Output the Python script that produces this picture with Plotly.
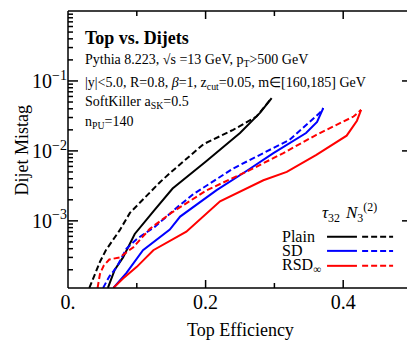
import math
import plotly.graph_objects as go

# ---- data (top efficiency, dijet mistag) ----
plain_tau_x = [0.058, 0.068, 0.080, 0.097, 0.125, 0.152, 0.200, 0.250, 0.279, 0.296]
plain_tau_y = [1.1e-4, 2.0e-4, 3.0e-4, 6.5e-4, 1.4e-3, 2.9e-3, 7.0e-3, 1.8e-2, 3.5e-2, 5.7e-2]

plain_n3_x = [0.031, 0.040, 0.0465, 0.055, 0.075, 0.090, 0.115, 0.134, 0.153, 0.197, 0.240, 0.274, 0.296]
plain_n3_y = [1.1e-4, 1.8e-4, 2.6e-4, 3.8e-4, 7.3e-4, 1.3e-3, 2.3e-3, 3.6e-3, 5.3e-3, 1.25e-2, 2.0e-2, 3.1e-2, 5.7e-2]

sd_tau_x = [0.066, 0.075, 0.085, 0.109, 0.148, 0.163, 0.216, 0.260, 0.298, 0.346, 0.362, 0.371]
sd_tau_y = [1.1e-4, 1.4e-4, 1.8e-4, 3.8e-4, 7.5e-4, 1.15e-3, 2.75e-3, 5.2e-3, 9.2e-3, 1.8e-2, 2.6e-2, 4.1e-2]

sd_n3_x = [0.051, 0.060, 0.071, 0.085, 0.100, 0.126, 0.160, 0.182, 0.240, 0.322, 0.366, 0.371]
sd_n3_y = [1.1e-4, 1.6e-4, 2.2e-4, 4.0e-4, 5.5e-4, 8.2e-4, 1.6e-3, 2.4e-3, 5.6e-3, 1.44e-2, 3.5e-2, 4.1e-2]

rsd_tau_x = [0.066, 0.080, 0.100, 0.124, 0.172, 0.221, 0.284, 0.318, 0.361, 0.405, 0.420, 0.426]
rsd_tau_y = [1.1e-4, 1.5e-4, 2.2e-4, 3.8e-4, 7.0e-4, 1.9e-3, 3.8e-3, 5.0e-3, 8.8e-3, 1.65e-2, 2.7e-2, 3.86e-2]

rsd_n3_x = [0.043, 0.0465, 0.052, 0.060, 0.075, 0.095, 0.119, 0.150, 0.202, 0.264, 0.313, 0.361, 0.415, 0.426]
rsd_n3_y = [1.1e-4, 1.75e-4, 2.3e-4, 2.8e-4, 3.0e-4, 4.2e-4, 7.7e-4, 1.3e-3, 2.75e-3, 5.3e-3, 9.3e-3, 1.7e-2, 3.1e-2, 3.86e-2]

legend_rows = ["Plain", "SD", "RSD<sub>∞</sub>"]
row_colors = ["black", "#0000ff", "#ff0000"]

x_tickvals = [0, 0.2, 0.4]
x_ticktext = ["0.", "0.2", "0.4"]
x_minor = [0.1, 0.3]
y_tickvals = [1e-3, 1e-2, 1e-1, 1]
y_ticktext = ["10<sup>−3</sup>", "10<sup>−2</sup>", "10<sup>−1</sup>", "10<sup>0</sup>"]
y_minor = [k * 10 ** e for e in range(-4, 0) for k in range(2, 10)]

FONT = "Liberation Serif"
X_RANGE = [0, 0.5]
Y_RANGE = [-3.96, 0]
PLOT_W, PLOT_H = 344, 277   # plot area in px

fig = go.Figure()

curves = [
    (plain_tau_x, plain_tau_y, "black", "solid"),
    (plain_n3_x, plain_n3_y, "black", "6px,3px"),
    (sd_tau_x, sd_tau_y, "#0000ff", "solid"),
    (sd_n3_x, sd_n3_y, "#0000ff", "6px,3px"),
    (rsd_tau_x, rsd_tau_y, "#ff0000", "solid"),
    (rsd_n3_x, rsd_n3_y, "#ff0000", "6px,3px"),
]
for xs, ys, col, dash in curves:
    fig.add_trace(go.Scatter(x=xs, y=ys, mode="lines",
                             line=dict(color=col, width=2, dash=dash),
                             showlegend=False, hoverinfo="skip"))

fig.update_xaxes(range=X_RANGE, tickvals=x_tickvals, ticktext=x_ticktext,
                 showline=False, ticks="", showgrid=False, zeroline=False,
                 tickfont=dict(family=FONT, size=20, color="black"))
fig.update_yaxes(type="log", range=Y_RANGE, tickvals=y_tickvals, ticktext=y_ticktext,
                 showline=False, ticks="", showgrid=False, zeroline=False,
                 tickfont=dict(family=FONT, size=20, color="black"))

# frame and tick marks drawn as shapes
frame = dict(color="black", width=1.5)
for x0, x1, y0, y1 in [(0, 1, 0, 0), (0, 1, 1, 1), (0, 0, 0, 1), (1, 1, 0, 1)]:
    fig.add_shape(type="line", xref="paper", yref="paper", x0=x0, x1=x1, y0=y0, y1=y1,
                  line=frame, layer="above")

def xtick(v, length):
    p = (v - X_RANGE[0]) / (X_RANGE[1] - X_RANGE[0])
    h = length / PLOT_H
    for y0, y1 in [(0, h), (1 - h, 1)]:
        fig.add_shape(type="line", xref="paper", yref="paper", x0=p, x1=p, y0=y0, y1=y1,
                      line=frame, layer="above")

def ytick(v, length):
    p = (math.log10(v) - Y_RANGE[0]) / (Y_RANGE[1] - Y_RANGE[0])
    w = length / PLOT_W
    for x0, x1 in [(0, w), (1 - w, 1)]:
        fig.add_shape(type="line", xref="paper", yref="paper", x0=x0, x1=x1, y0=p, y1=p,
                      line=frame, layer="above")

for v in x_tickvals[1:]:
    xtick(v, 8)
for v in x_minor:
    xtick(v, 5)
for v in y_tickvals[:-1]:
    ytick(v, 10)
for v in y_minor:
    if math.log10(v) > Y_RANGE[0]:
        ytick(v, 5)

# axis titles
fig.add_annotation(text="Top Efficiency", x=0.5, y=-0.152, xref="paper", yref="paper",
                   xanchor="center", yanchor="middle",
                   showarrow=False, font=dict(family=FONT, size=18, color="black"))
fig.add_annotation(text="Dijet Mistag", x=-0.134, y=0.5, xref="paper", yref="paper",
                   xanchor="center", yanchor="middle",
                   textangle=-90, showarrow=False, font=dict(family=FONT, size=18, color="black"))

# header text
info = [
    ("<b>Top vs. Dijets</b>", 0.9025, 18),
    ("Pythia 8.223, √s =13 GeV, p<sub>T</sub>>500 GeV", 0.823, 14),
    ("|y|<5.0, R=0.8, <i>β</i>=1, z<sub>cut</sub>=0.05, m∈[160,185] GeV", 0.740, 14),
    ("SoftKiller a<sub>SK</sub>=0.5", 0.668, 14),
    ("n<sub>PU</sub>=140", 0.596, 14),
]
for txt, yy, sz in info:
    fig.add_annotation(text=txt, x=0.045, y=yy, xref="paper", yref="paper",
                       xanchor="left", yanchor="middle", showarrow=False,
                       font=dict(family=FONT, size=sz, color="black"))

# custom legend
fig.add_annotation(text="<i>τ</i><sub>32</sub>", x=0.797, y=0.22, xref="paper", yref="paper",
                   yanchor="bottom", showarrow=False, font=dict(family=FONT, size=17, color="black"))
fig.add_annotation(text="<i>N</i><sub>3</sub><sup>(2)</sup>", x=0.905, y=0.22, xref="paper", yref="paper",
                   yanchor="bottom", showarrow=False, font=dict(family=FONT, size=17, color="black"))
row_y = [0.185, 0.134, 0.08]
for name, col, yy in zip(legend_rows, row_colors, row_y):
    fig.add_annotation(text=name, x=0.616, y=yy, xref="paper", yref="paper",
                       xanchor="left", yanchor="middle", showarrow=False,
                       font=dict(family=FONT, size=16, color="black"))
    fig.add_shape(type="line", xref="paper", yref="paper", x0=0.753, x1=0.840, y0=yy, y1=yy,
                  line=dict(color=col, width=2))
    fig.add_shape(type="line", xref="paper", yref="paper", x0=0.855, x1=0.945, y0=yy, y1=yy,
                  line=dict(color=col, width=2, dash="6px,3px"))

# page body has an 8px margin, so the figure is 8px smaller and shifted
fig.update_layout(width=407, height=334, margin=dict(l=60, r=3, t=3, b=54),
                  plot_bgcolor="white", paper_bgcolor="white",
                  font=dict(family=FONT, color="black"))

fig.write_html("out.html")
